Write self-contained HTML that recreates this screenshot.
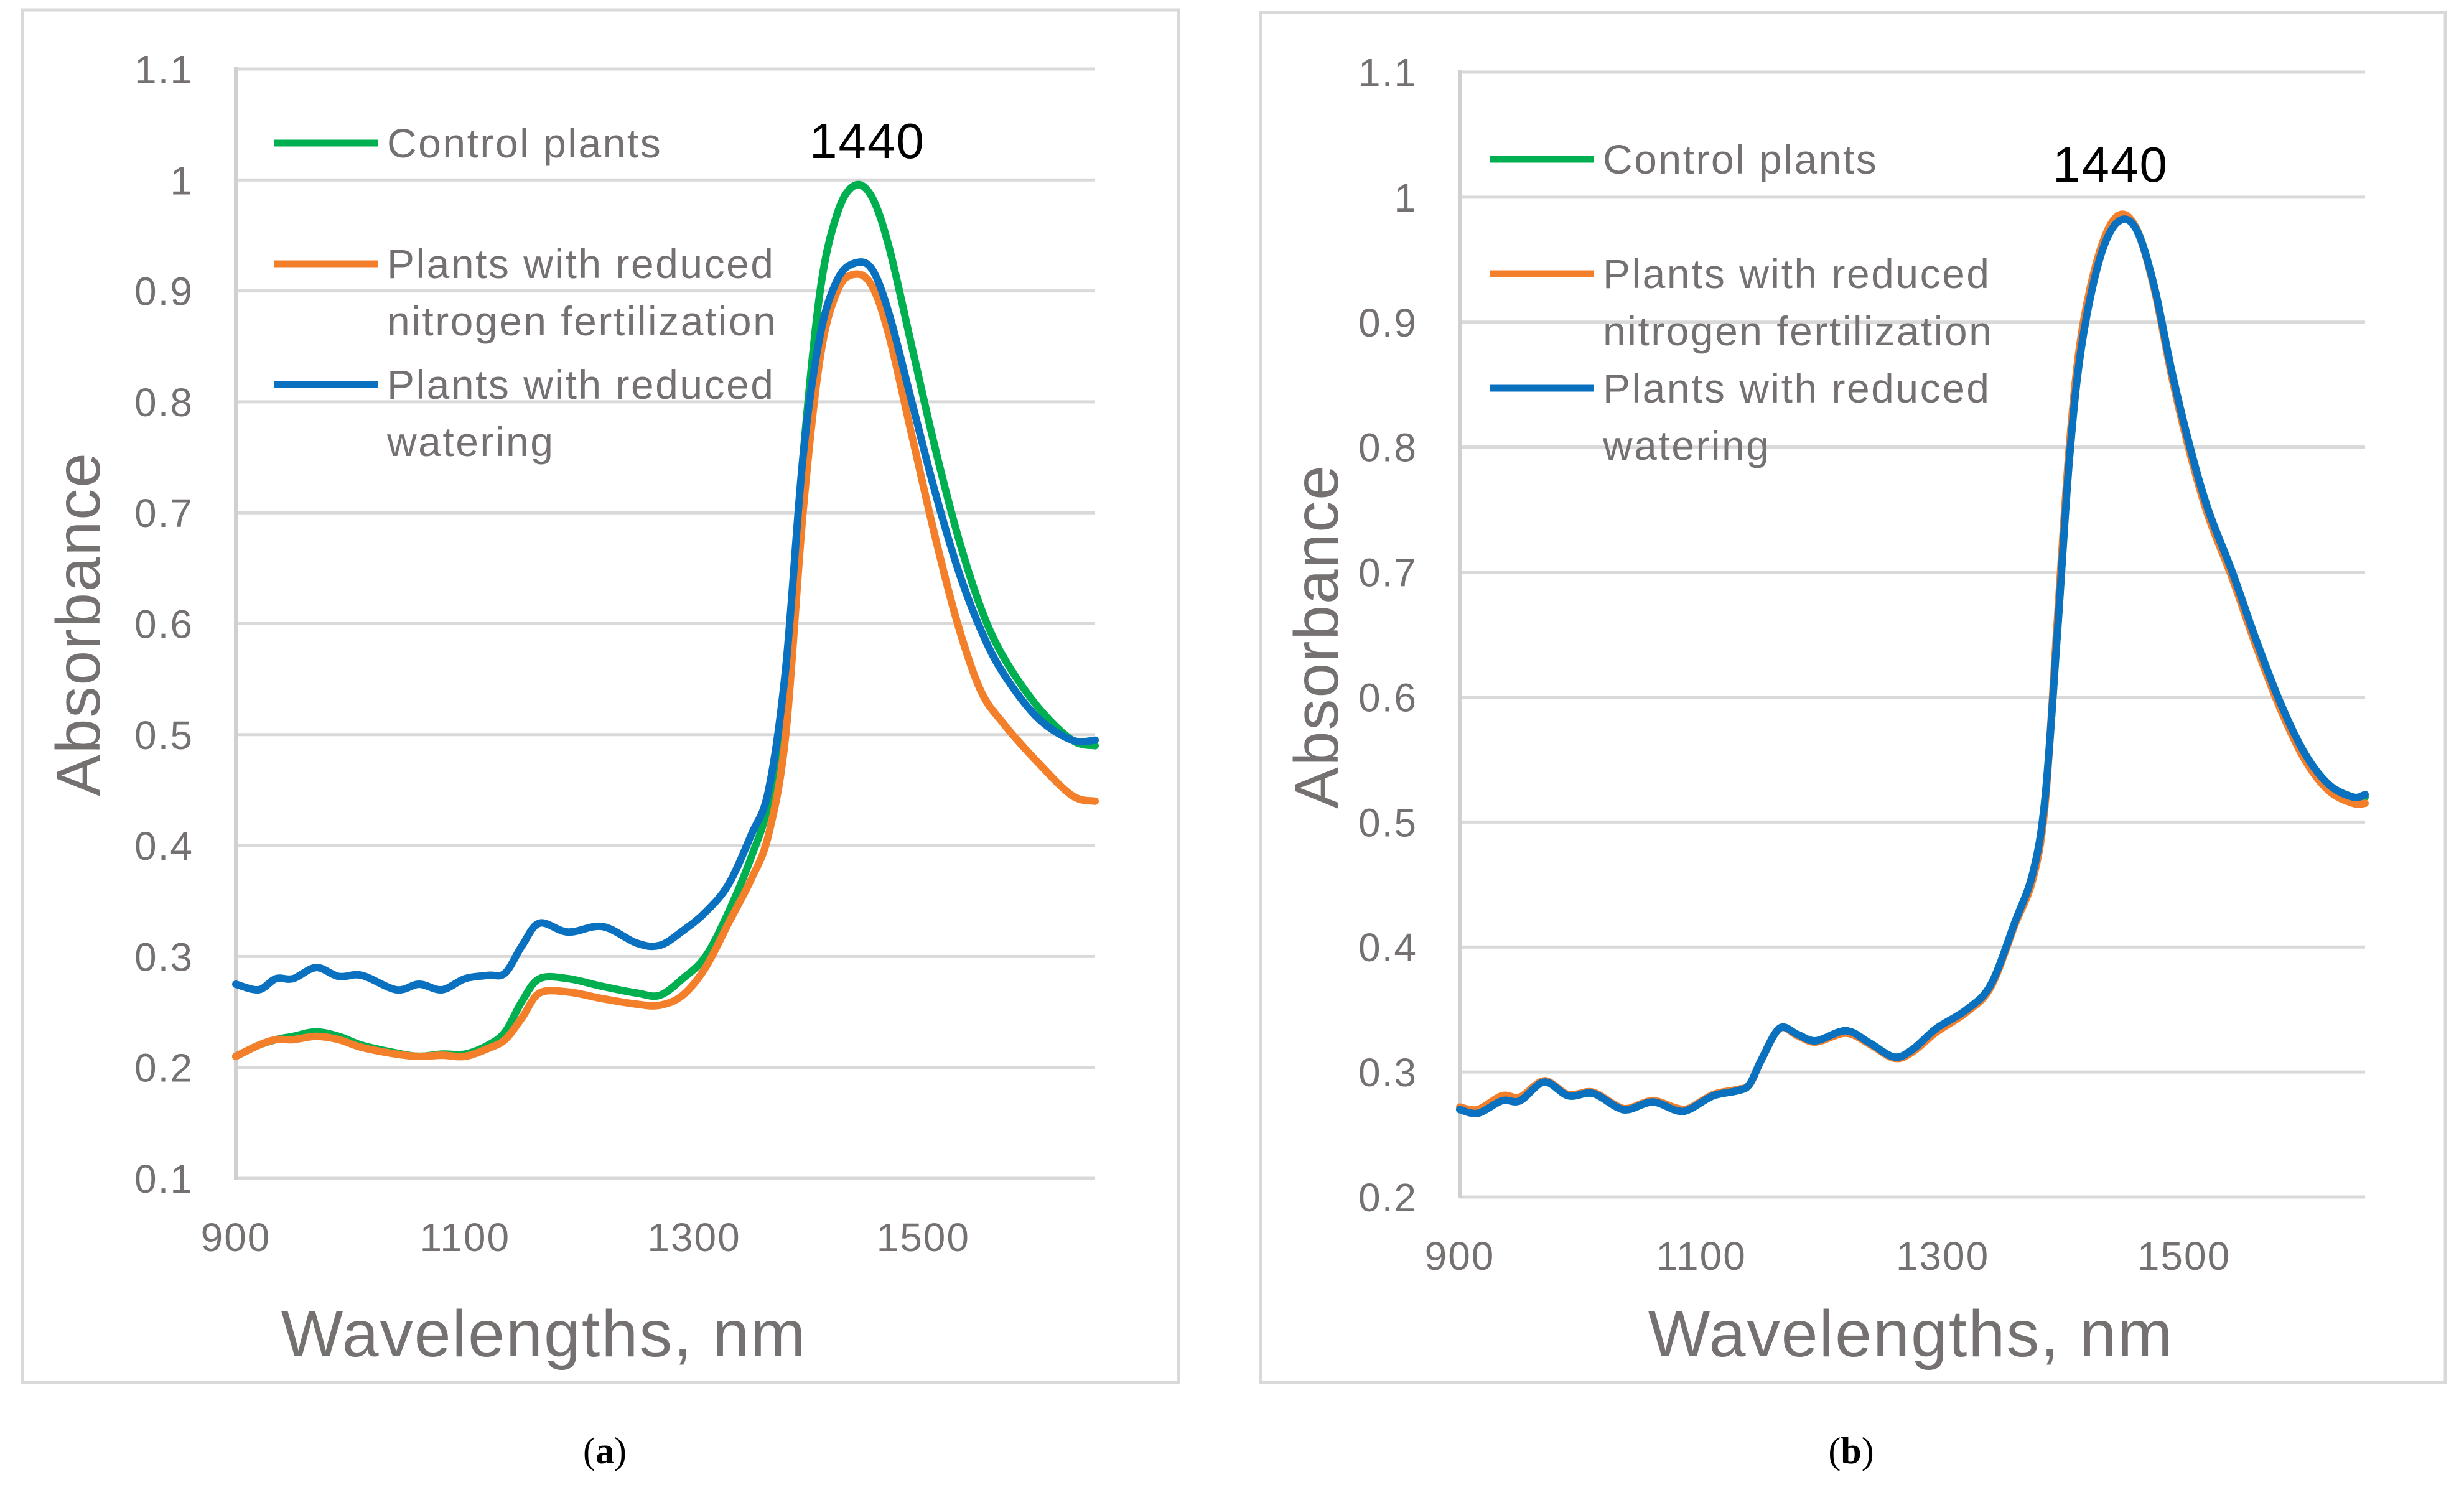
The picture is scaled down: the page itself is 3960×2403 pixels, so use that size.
<!DOCTYPE html>
<html><head><meta charset="utf-8">
<style>
html,body{margin:0;padding:0;background:#fff;}
svg{display:block;}
</style></head>
<body>
<svg id="fig" xmlns="http://www.w3.org/2000/svg" width="3960" height="2403" viewBox="0 0 3960 2403">
<rect x="0" y="0" width="3960" height="2403" fill="#fff"/>
<rect x="36" y="16" width="1858" height="2206" fill="#fff" stroke="#d9d9d9" stroke-width="5"/>
<rect x="2026" y="20" width="1904" height="2202" fill="#fff" stroke="#d9d9d9" stroke-width="5"/>
<g id="pa"></g>
<g id="pb"></g>
<text x="972" y="2352" font-family="Liberation Serif, serif" font-size="60" text-anchor="middle" fill="#000">(<tspan font-weight="bold">a</tspan>)</text>
<text x="2975" y="2352" font-family="Liberation Serif, serif" font-size="60" text-anchor="middle" fill="#000">(<tspan font-weight="bold">b</tspan>)</text>
</svg>
<script>
const xTicks = [900, 1100, 1300, 1500];
const yTicksA = [0.1,0.2,0.3,0.4,0.5,0.6,0.7,0.8,0.9,1,1.1];
const yTicksB = [0.2,0.3,0.4,0.5,0.6,0.7,0.8,0.9,1,1.1];
const seriesNames = ["Control plants","Plants with reduced|nitrogen fertilization","Plants with reduced|watering"];
const seriesColors = ["#00b050","#f47f2a","#0a70c0"];

const wlA = [900,920,935,950,970,990,1010,1040,1060,1080,1100,1120,1135,1150,1165,1190,1220,1250,1270,1290,1310,1330,1350,1365,1380,1395,1410,1425,1440,1455,1470,1490,1510,1530,1550,1570,1600,1630,1650];
const controlA = [0.21,0.22,0.225,0.228,0.232,0.228,0.22,0.213,0.21,0.212,0.212,0.22,0.232,0.26,0.28,0.28,0.273,0.267,0.265,0.28,0.30,0.34,0.39,0.44,0.55,0.75,0.90,0.97,0.995,0.985,0.94,0.85,0.76,0.68,0.615,0.57,0.525,0.495,0.49];
const nitrogenA = [0.21,0.22,0.225,0.225,0.228,0.225,0.218,0.212,0.21,0.211,0.21,0.217,0.225,0.245,0.267,0.268,0.262,0.257,0.256,0.265,0.29,0.33,0.37,0.41,0.50,0.70,0.84,0.90,0.915,0.905,0.86,0.77,0.68,0.60,0.54,0.51,0.475,0.445,0.44];
const wateringA = [0.275,0.27,0.28,0.28,0.29,0.282,0.283,0.27,0.275,0.27,0.28,0.283,0.285,0.31,0.33,0.322,0.327,0.312,0.31,0.323,0.34,0.365,0.41,0.45,0.56,0.75,0.86,0.91,0.925,0.92,0.88,0.80,0.72,0.65,0.595,0.555,0.515,0.495,0.495];

const wlB = [900,915,935,950,970,990,1010,1030,1040,1060,1080,1090,1110,1130,1140,1150,1165,1180,1195,1220,1240,1260,1275,1295,1320,1340,1360,1375,1385,1395,1405,1415,1430,1445,1460,1475,1490,1505,1520,1540,1560,1580,1600,1620,1640,1650];
const controlB = [0.27,0.268,0.278,0.278,0.292,0.281,0.283,0.272,0.27,0.276,0.27,0.27,0.281,0.285,0.29,0.31,0.335,0.33,0.325,0.332,0.323,0.312,0.318,0.334,0.35,0.37,0.42,0.46,0.52,0.65,0.79,0.88,0.952,0.982,0.976,0.93,0.86,0.80,0.75,0.70,0.645,0.595,0.555,0.53,0.52,0.52];
const nitrogenB = [0.272,0.27,0.281,0.28,0.293,0.282,0.284,0.273,0.271,0.277,0.271,0.271,0.282,0.286,0.29,0.31,0.335,0.329,0.324,0.331,0.322,0.311,0.316,0.332,0.348,0.368,0.418,0.455,0.515,0.66,0.80,0.89,0.956,0.985,0.976,0.928,0.856,0.795,0.745,0.695,0.64,0.59,0.55,0.525,0.515,0.515];
const wateringB = [0.27,0.267,0.277,0.277,0.292,0.281,0.283,0.272,0.27,0.276,0.269,0.27,0.281,0.285,0.29,0.31,0.335,0.33,0.325,0.333,0.323,0.312,0.318,0.335,0.35,0.37,0.42,0.46,0.52,0.65,0.79,0.88,0.95,0.98,0.975,0.93,0.86,0.80,0.75,0.70,0.645,0.595,0.555,0.53,0.52,0.522];

const NS = "http://www.w3.org/2000/svg";
const GRAY = "#767171";
function mk(tag, attrs, parent){ const e=document.createElementNS(NS,tag); for(const k in attrs) e.setAttribute(k,attrs[k]); parent.appendChild(e); return e; }

function smoothPath(pts){
  let d = "M"+pts[0][0].toFixed(1)+","+pts[0][1].toFixed(1);
  for(let i=0;i<pts.length-1;i++){
    const p0=pts[Math.max(0,i-1)], p1=pts[i], p2=pts[i+1], p3=pts[Math.min(pts.length-1,i+2)];
    const c1x=p1[0]+(p2[0]-p0[0])/6, c1y=p1[1]+(p2[1]-p0[1])/6;
    const c2x=p2[0]-(p3[0]-p1[0])/6, c2y=p2[1]-(p3[1]-p1[1])/6;
    d+=" C"+c1x.toFixed(1)+","+c1y.toFixed(1)+" "+c2x.toFixed(1)+","+c2y.toFixed(1)+" "+p2[0].toFixed(1)+","+p2[1].toFixed(1);
  }
  return d;
}

function drawPanel(g, cfg){
  const {L,R,T,B,ymin,ymax,yTicks,wl,series,legX,legY,legGap,lineGap,peakX,peakY,absX,absY,wavX,wavY,id} = cfg;
  const xs = v => L + (v-900)/(1650-900)*(R-L);
  const ys = v => B - (v-ymin)/(ymax-ymin)*(B-T);
  yTicks.forEach((t,i)=>{
    const y=ys(t);
    if(i>0){
      const gl = mk("line",{x1:L,x2:R,y1:y,y2:y,stroke:"#d9d9d9","stroke-width":5},g);
      
      
    }
    const tx = mk("text",{x:L-68,y:y+23,"text-anchor":"end","font-family":"Liberation Sans, sans-serif","font-size":64,"letter-spacing":2,fill:GRAY},g);
    tx.textContent = String(t);
    
    
  });
  const xa = mk("line",{x1:L,x2:R,y1:B,y2:B,stroke:"#d9d9d9","stroke-width":5},g);
  
  
  const ya = mk("line",{x1:L,x2:L,y1:T-4,y2:B+2,stroke:"#d0d0d0","stroke-width":6},g);
  
  
  xTicks.forEach(t=>{
    const tx = mk("text",{x:xs(t),y:B+117,"text-anchor":"middle","font-family":"Liberation Sans, sans-serif","font-size":64,"letter-spacing":2,fill:GRAY},g);
    tx.textContent = String(t);
    
    
  });
  series.forEach((s,si)=>{
    const pts = wl.map((w,i)=>[xs(w), ys(s[i])]);
    const p = mk("path",{d:smoothPath(pts),fill:"none",stroke:seriesColors[si],"stroke-width":12,"stroke-linejoin":"round","stroke-linecap":"round"},g);
    
    
  });
  seriesNames.forEach((n,si)=>{
    const y = legY + si*legGap;
    const ln = mk("line",{x1:legX,x2:legX+168,y1:y,y2:y,stroke:seriesColors[si],"stroke-width":11},g);
    
    
    n.split("|").forEach((part,pi)=>{
      const tx = mk("text",{x:legX+182,y:y+23+pi*lineGap,"font-family":"Liberation Sans, sans-serif","font-size":66,"letter-spacing":2.5,fill:GRAY},g);
      tx.textContent = part;
      
      
    });
  });
  const pk = mk("text",{x:peakX,y:peakY,"text-anchor":"middle","font-family":"Liberation Sans, sans-serif","font-size":80,"letter-spacing":2,fill:"#000"},g);
  pk.textContent = "1440";
  
  
  const at = mk("text",{x:0,y:0,transform:"translate("+absX+","+absY+") rotate(-90)","text-anchor":"middle","font-family":"Liberation Sans, sans-serif","font-size":100,"letter-spacing":2,fill:GRAY},g);
  at.textContent = "Absorbance";
  
  
  const wt = mk("text",{x:wavX,y:wavY,"text-anchor":"middle","font-family":"Liberation Sans, sans-serif","font-size":106,"letter-spacing":2,fill:GRAY},g);
  wt.textContent = "Wavelengths, nm";
  
  
}

drawPanel(document.getElementById("pa"), {id:"a",L:379,R:1760,T:111,B:1894,ymin:0.1,ymax:1.1,yTicks:yTicksA,wl:wlA,
  series:[controlA,nitrogenA,wateringA],legX:440,legY:230,legGap:194,lineGap:92,peakX:1394,peakY:254,absX:160,absY:1003,wavX:874,wavY:2180});
drawPanel(document.getElementById("pb"), {id:"b",L:2346,R:3801,T:116,B:1924,ymin:0.2,ymax:1.1,yTicks:yTicksB,wl:wlB,
  series:[controlB,nitrogenB,wateringB],legX:2394,legY:256,legGap:184,lineGap:92,peakX:3392,peakY:292,absX:2150,absY:1023,wavX:3071,wavY:2180});
</script>
</body></html>
